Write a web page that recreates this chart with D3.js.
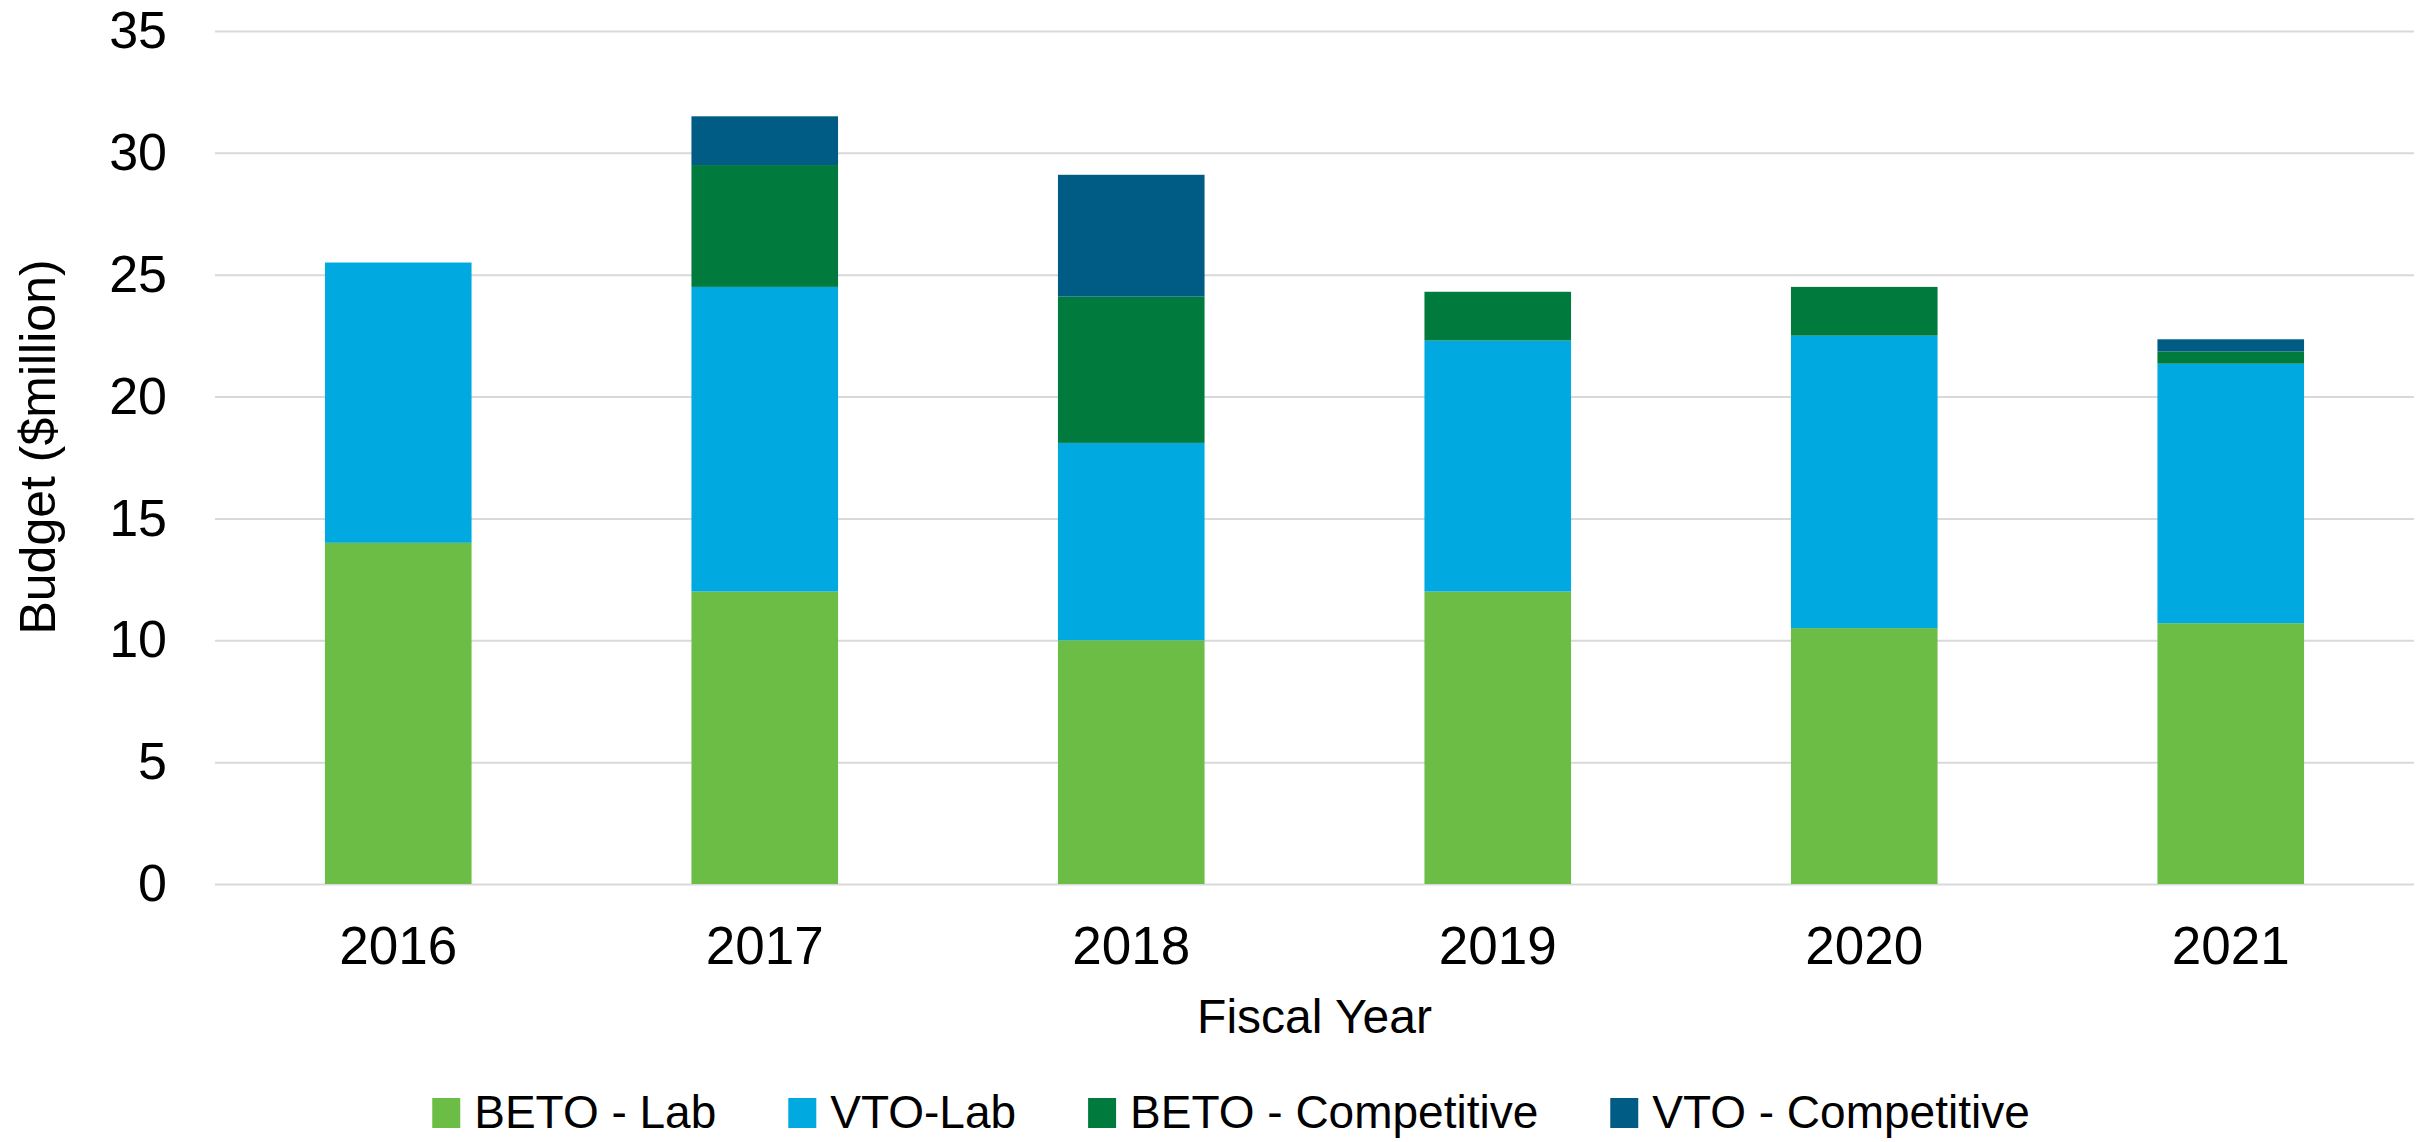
<!DOCTYPE html>
<html>
<head>
<meta charset="utf-8">
<script src="https://d3js.org/d3.v7.min.js"></script>
<style>
  body { margin: 0; background: #fff; }
  text { font-family: "Liberation Sans", Arial, sans-serif; fill: #000; }
</style>
</head>
<body>
<div id="chart"></div>
<script>
// fiscal years on the x axis
var years = ["2016", "2017", "2018", "2019", "2020", "2021"];

// series, bottom to top of the stack
var seriesNames = ["BETO - Lab", "VTO-Lab", "BETO - Competitive", "VTO - Competitive"];
var betoLab = [14, 12, 10, 12, 10.5, 10.7];
var vtoLab = [11.5, 12.5, 8.1, 10.3, 12, 10.65];
var betoCompetitive = [0, 5, 6, 2, 2, 0.5];
var vtoCompetitive = [0, 2, 5, 0, 0, 0.5];

var yTicks = [0, 5, 10, 15, 20, 25, 30, 35];
var colors = ["#6cbd45", "#00a9e0", "#007a3d", "#005c84"];

var width = 2427, height = 1142;
var margin = { top: 31, right: 13, bottom: 258, left: 215 };

// rows for d3.stack
var rows = years.map(function (y, i) {
    var r = { year: y };
    r[seriesNames[0]] = betoLab[i];
    r[seriesNames[1]] = vtoLab[i];
    r[seriesNames[2]] = betoCompetitive[i];
    r[seriesNames[3]] = vtoCompetitive[i];
    return r;
});
var stacked = d3.stack().keys(seriesNames)(rows);

var svg = d3.select("#chart").append("svg")
    .attr("width", width)
    .attr("height", height);

var x = d3.scaleBand()
    .domain(years)
    .range([margin.left, width - margin.right])
    .paddingInner(0.6)
    .paddingOuter(0.3);

var y = d3.scaleLinear()
    .domain([0, 35])
    .range([height - margin.bottom, margin.top]);

// gridlines + y labels
var yAxis = d3.axisLeft(y)
    .tickValues(yTicks)
    .tickSize(-(width - margin.left - margin.right))
    .tickPadding(48)
    .tickFormat(d3.format("d"));

svg.append("g")
    .attr("transform", "translate(" + margin.left + ",0)")
    .call(yAxis)
    .call(function (g) { g.select(".domain").remove(); })
    .call(function (g) {
        g.selectAll(".tick line").attr("stroke", "#d9d9d9").attr("stroke-width", 2);
        g.selectAll(".tick text").attr("font-size", 52).attr("fill", "#000");
    });

// stacked bars
svg.append("g")
    .selectAll("g")
    .data(stacked)
    .join("g")
    .attr("fill", function (d, i) { return colors[i]; })
    .selectAll("rect")
    .data(function (d) { return d; })
    .join("rect")
    .attr("x", function (d) { return x(d.data.year); })
    .attr("y", function (d) { return y(d[1]); })
    .attr("width", x.bandwidth())
    .attr("height", function (d) { return y(d[0]) - y(d[1]); });

// x axis labels
var xAxis = d3.axisBottom(x).tickSize(0).tickPadding(42);
svg.append("g")
    .attr("transform", "translate(0," + (height - margin.bottom) + ")")
    .call(xAxis)
    .call(function (g) { g.select(".domain").remove(); })
    .call(function (g) {
        g.selectAll(".tick text").attr("font-size", 53).attr("fill", "#000");
    });

// axis titles
svg.append("text")
    .attr("x", (margin.left + width - margin.right) / 2)
    .attr("y", 1033)
    .attr("text-anchor", "middle")
    .attr("font-size", 48)
    .text("Fiscal Year");

svg.append("text")
    .attr("transform", "translate(55,447) rotate(-90)")
    .attr("text-anchor", "middle")
    .attr("font-size", 50)
    .text("Budget ($million)");

// legend, laid out left to right then centred
var legend = svg.append("g");
var cursor = 0;
var swatch = 30, textGap = 42, itemGap = 72;
seriesNames.forEach(function (name, i) {
    var item = legend.append("g").attr("transform", "translate(" + cursor + ",0)");
    item.append("rect")
        .attr("x", 0)
        .attr("y", -swatch)
        .attr("width", swatch - 2)
        .attr("height", swatch)
        .attr("fill", colors[i]);
    var t = item.append("text")
        .attr("x", textGap)
        .attr("y", 0)
        .attr("font-size", 46)
        .text(name);
    cursor += textGap + t.node().getComputedTextLength() + itemGap;
});
var legendWidth = cursor - itemGap;
legend.attr("transform", "translate(" + (1231 - legendWidth / 2) + ",1128)");
</script>
</body>
</html>
